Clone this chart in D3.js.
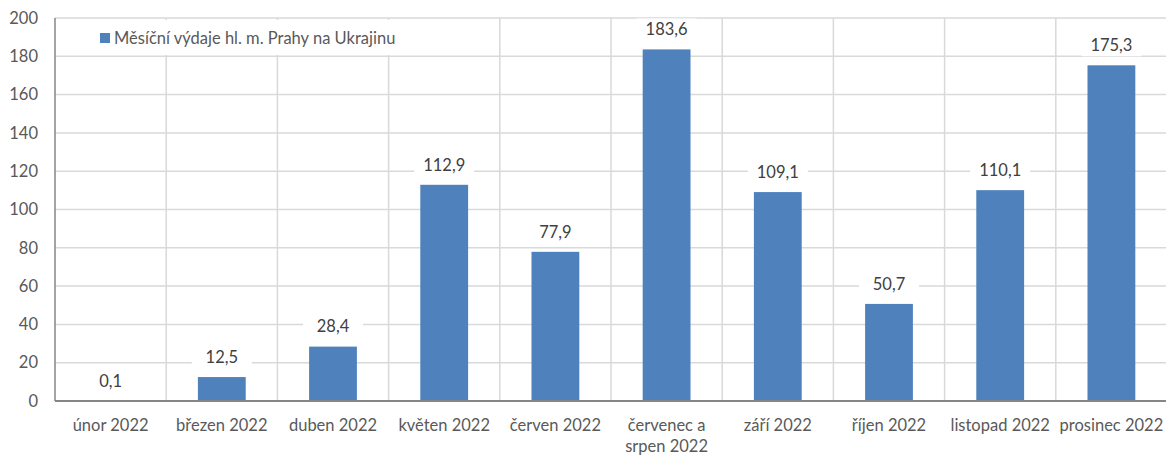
<!DOCTYPE html>
<html>
<head>
<meta charset="utf-8">
<script src="https://cdn.jsdelivr.net/npm/d3@7"></script>
<style>
  html, body { margin: 0; padding: 0; background: #fff; }
  svg { display: block; font-family: Lato, "Open Sans", sans-serif; }
</style>
</head>
<body>
<svg id="chart" width="1166" height="455"></svg>
<script>
// Monthly spending of Prague on Ukraine, 2022 (mil. Kč)
const categories = ["únor 2022", "březen 2022", "duben 2022", "květen 2022", "červen 2022",
  "červenec a srpen 2022", "září 2022", "říjen 2022", "listopad 2022", "prosinec 2022"];
const values = [0.1, 12.5, 28.4, 112.9, 77.9, 183.6, 109.1, 50.7, 110.1, 175.3];
const yTicks = [0, 20, 40, 60, 80, 100, 120, 140, 160, 180, 200];
const seriesName = "Měsíční výdaje hl. m. Prahy na Ukrajinu";

const svg = d3.select("#chart");
const margin = { left: 55, top: 18, right: -1, bottom: 54 };
const W = 1166, H = 455;
const plotRight = W - margin.right;
const plotBottom = H - margin.bottom;
const fs = 16.5;

const x = d3.scaleBand()
  .domain(categories)
  .range([margin.left, plotRight])
  .paddingInner(0.57)
  .paddingOuter(0.285);
const y = d3.scaleLinear().domain([0, 200]).range([plotBottom, margin.top]);
const step = x.step();

const fmt = v => d3.format(".1f")(v).replace(".", ",");

// horizontal gridlines
svg.append("g").selectAll("line").data(yTicks.slice(1)).join("line")
  .attr("x1", margin.left).attr("x2", plotRight)
  .attr("y1", d => y(d)).attr("y2", d => y(d))
  .attr("stroke", "#d9d9d9").attr("stroke-width", 1.5);

// vertical gridlines at category boundaries
svg.append("g").selectAll("line").data(categories).join("line")
  .attr("x1", (d, i) => margin.left + step * (i + 1))
  .attr("x2", (d, i) => margin.left + step * (i + 1))
  .attr("y1", y(200)).attr("y2", y(0))
  .attr("stroke", "#d9d9d9").attr("stroke-width", 1.5);

// bars
svg.append("g").selectAll("rect").data(values).join("rect")
  .attr("x", (d, i) => x(categories[i]))
  .attr("width", x.bandwidth())
  .attr("y", d => y(d))
  .attr("height", d => y(0) - y(d))
  .attr("fill", "#4f81bd");

// value labels on white boxes
const lbl = svg.append("g").selectAll("g").data(values).join("g")
  .attr("transform", (d, i) => `translate(${x(categories[i]) + x.bandwidth() / 2},${y(d) - 20})`);
lbl.append("rect")
  .attr("x", -30).attr("y", -11).attr("width", 60).attr("height", 22)
  .attr("fill", "#fff");
lbl.append("text")
  .attr("text-anchor", "middle").attr("dy", "0.35em")
  .attr("font-size", fs).attr("fill", "#404040")
  .text(d => fmt(d));

// axes lines
svg.append("line")
  .attr("x1", margin.left).attr("x2", margin.left)
  .attr("y1", y(200)).attr("y2", y(0))
  .attr("stroke", "#868686").attr("stroke-width", 1.5);
svg.append("line")
  .attr("x1", margin.left).attr("x2", plotRight)
  .attr("y1", y(0)).attr("y2", y(0))
  .attr("stroke", "#868686").attr("stroke-width", 2);

// y tick labels
svg.append("g").selectAll("text").data(yTicks).join("text")
  .attr("x", 38).attr("y", d => y(d)).attr("dy", "0.35em")
  .attr("text-anchor", "end").attr("font-size", fs).attr("fill", "#595959")
  .text(d => d);

// x tick labels with word wrap
const xl = svg.append("g").selectAll("text").data(categories).join("text")
  .attr("x", d => x(d) + x.bandwidth() / 2)
  .attr("y", plotBottom + 24)
  .attr("dy", "0.35em")
  .attr("text-anchor", "middle").attr("font-size", fs).attr("fill", "#595959");
xl.each(function (d) {
  const t = d3.select(this);
  const words = d.split(" ");
  let line = [];
  let ts = t.append("tspan").attr("x", t.attr("x"));
  words.forEach(w => {
    line.push(w);
    ts.text(line.join(" "));
    if (ts.node().getComputedTextLength() > step - 2 && line.length > 1) {
      line.pop();
      ts.text(line.join(" "));
      line = [w];
      ts = t.append("tspan").attr("x", t.attr("x")).attr("dy", "1.3em").text(w);
    }
  });
});

// legend
const lg = svg.append("g");
lg.append("rect").attr("x", 57).attr("y", 20).attr("width", 386).attr("height", 35).attr("fill", "#fff");
lg.append("rect").attr("x", 100).attr("y", 33).attr("width", 10).attr("height", 10).attr("fill", "#4f81bd");
lg.append("text").attr("x", 114).attr("y", 38).attr("dy", "0.35em")
  .attr("font-size", fs).attr("fill", "#595959").text(seriesName);
</script>
</body>
</html>
